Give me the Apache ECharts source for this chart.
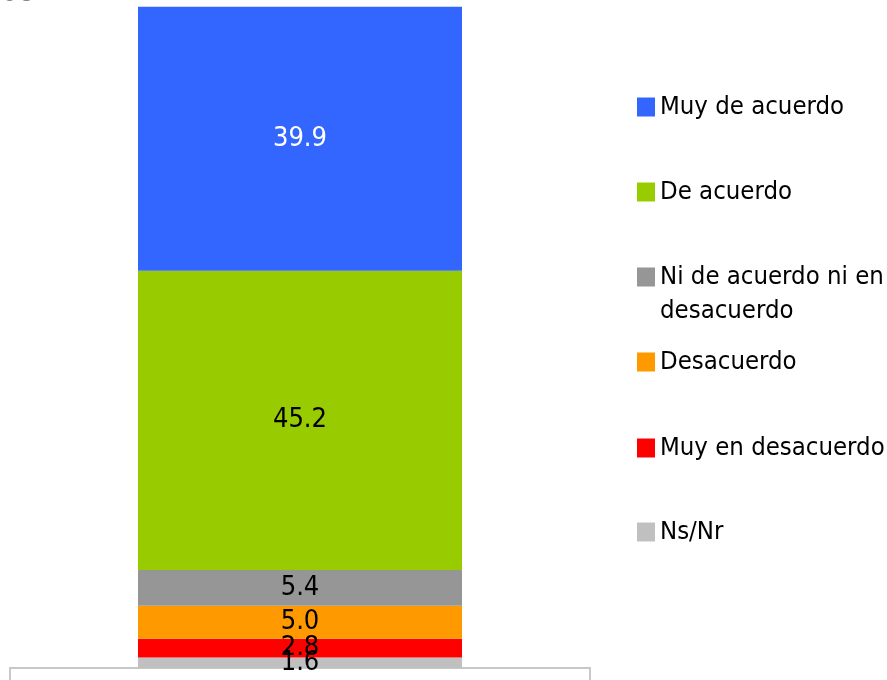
<!DOCTYPE html>
<html>
<head>
<meta charset="utf-8">
<script src="https://cdn.jsdelivr.net/npm/echarts@6/dist/echarts.min.js"></script>
<style>
    html, body { margin: 0; padding: 0; background: #fff; }
    #chartBox { width: 887px; height: 680px; }
</style>
</head>
<body>
<div id="chartBox"></div>
<script>
// categorias (de arriba hacia abajo, como en la leyenda)
var categories = ['Muy de acuerdo', 'De acuerdo', 'Ni de acuerdo ni en desacuerdo', 'Desacuerdo', 'Muy en desacuerdo', 'Ns/Nr'];
var values = [39.9, 45.2, 5.4, 5.0, 2.8, 1.6];
var colors = ['#3366FF', '#99CC00', '#969696', '#FF9900', '#FF0000', '#C0C0C0'];
var labelColors = ['#ffffff', '#000000', '#000000', '#000000', '#000000', '#000000'];
var xCategory = [''];

var font = '"DejaVu Sans Condensed", "Liberation Sans", sans-serif';
var legendTops = [92, 177, 260, 347, 433, 517];

var chartLine = echarts.init(document.getElementById('chartBox'));

// la pila se dibuja de abajo hacia arriba
var series = [];
for (var i = categories.length - 1; i >= 0; i--) {
    series.push({
        name: categories[i],
        type: 'bar',
        stack: 'total',
        barWidth: '100%',
        data: [values[i]],
        itemStyle: { color: colors[i] },
        label: {
            show: true,
            position: 'inside',
            formatter: function (p) { return p.value.toFixed(1); },
            color: labelColors[i],
            fontFamily: font,
            fontSize: 27
        }
    });
}

var legends = [];
for (var k = 0; k < categories.length; k++) {
    var twoLines = categories[k].length > 20;
    legends.push({
        orient: 'vertical',
        left: 637,
        top: legendTops[k],
        padding: 0,
        itemWidth: 18,
        itemHeight: twoLines ? 53 : 19,
        // cuadro arriba para que quede junto a la primera linea
        icon: twoLines ? 'path://M0,0L18,0L18,19L0,19Z M0,0L0,53' : 'rect',
        selectedMode: false,
        data: [categories[k]],
        formatter: twoLines ? function () { return 'Ni de acuerdo ni en\ndesacuerdo'; } : null,
        textStyle: {
            fontFamily: font,
            fontSize: 25.5,
            color: '#000',
            lineHeight: twoLines ? 34 : 30
        }
    });
}

var option = {
    animation: false,
    title: {
        text: '98',
        left: -1,
        top: -24,
        textStyle: { fontFamily: font, fontSize: 26, color: '#808080', fontWeight: 'normal' }
    },
    grid: { left: 138, width: 324, top: 6, bottom: 12 },
    legend: legends,
    xAxis: {
        type: 'category',
        data: xCategory,
        show: false
    },
    yAxis: {
        type: 'value',
        min: 0,
        max: 100,
        show: false
    },
    graphic: [
        {
            type: 'rect',
            z: -1,
            shape: { x: 10, y: 668, width: 580, height: 30 },
            style: { fill: '#fff', stroke: '#c8c8c8', lineWidth: 2 }
        }
    ],
    series: series
};
chartLine.setOption(option);
</script>
</body>
</html>
